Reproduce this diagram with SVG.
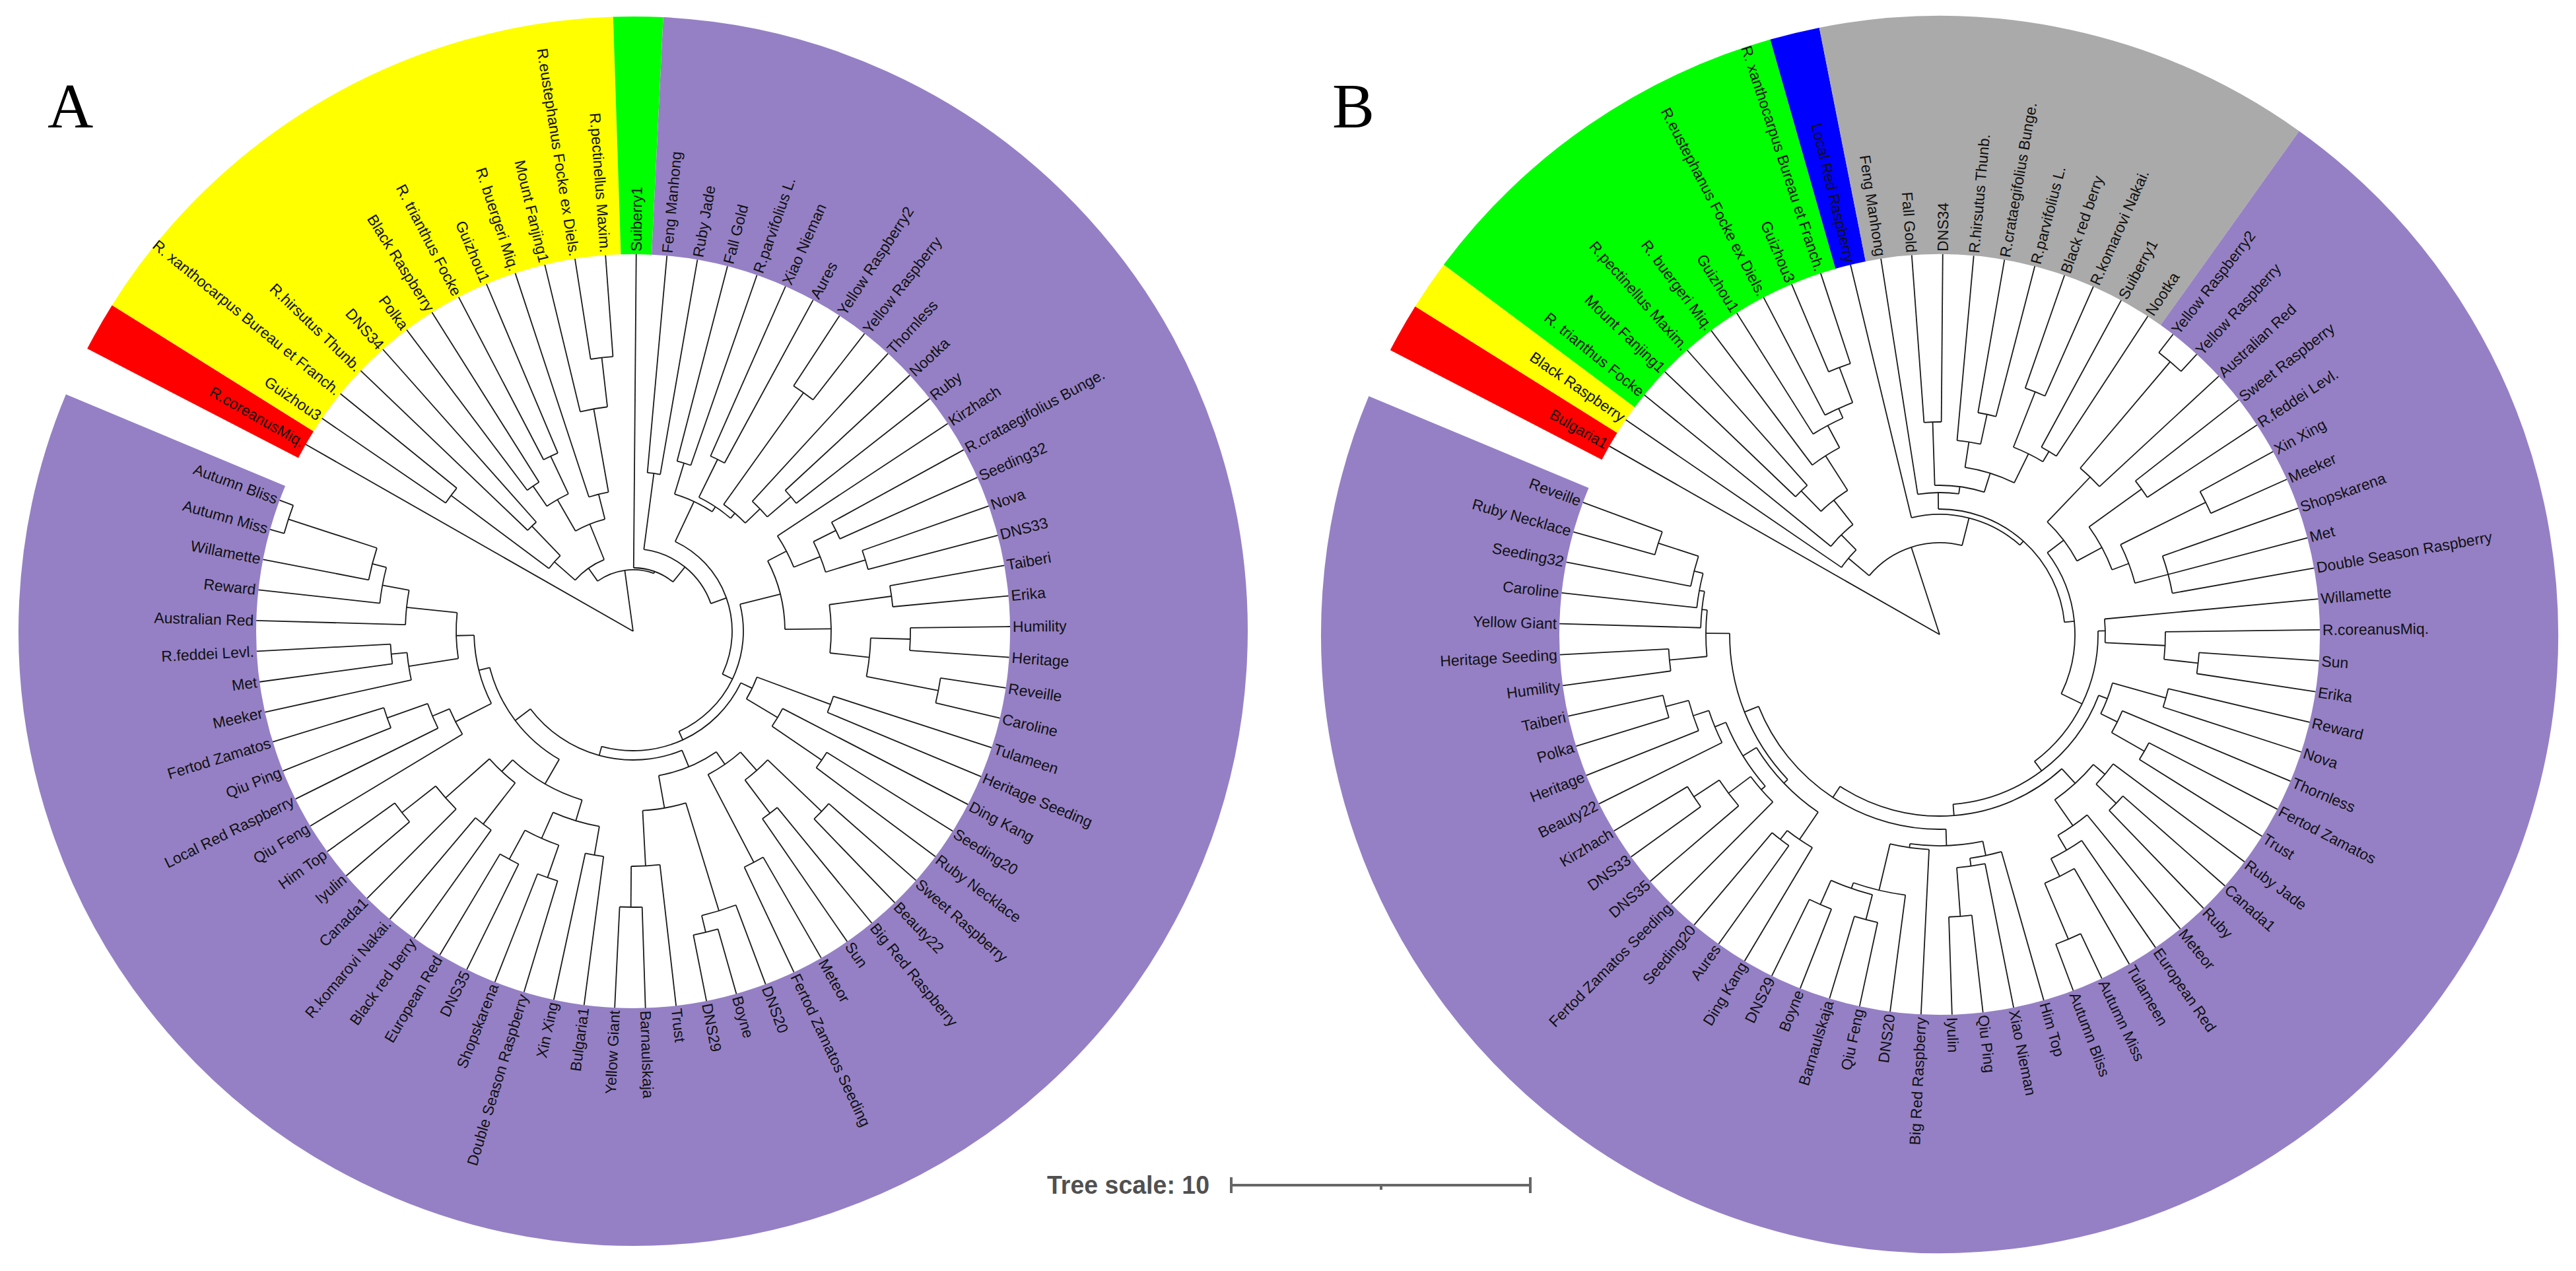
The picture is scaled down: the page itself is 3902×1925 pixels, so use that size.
<svg xmlns="http://www.w3.org/2000/svg" width="3902" height="1925" viewBox="0 0 3902 1925">
<style>
.br{fill:none;stroke:#1a1a1a;stroke-width:1.8}
.bd{fill:none;stroke-width:360}
.lb{font-family:"Liberation Sans",Arial,sans-serif;font-size:23px;fill:#111;dominant-baseline:central}
.f{text-anchor:end}
.pl{font-family:"Liberation Serif","Times New Roman",serif;font-size:96px;fill:#000}
.ts{font-family:"Liberation Sans",Arial,sans-serif;font-size:38px;font-weight:bold;fill:#505050}
.sb{stroke:#666;stroke-width:4;fill:none}
</style>
<rect width="3902" height="1925" fill="#fff"/>
<text id="panelA" class="pl" x="72" y="193">A</text>
<text id="panelB" class="pl" x="2018" y="193">B</text>

<g id="treeA" transform="translate(959 956)">
<g id="bandsA" class="bd">
<circle r="751" pathLength="360" stroke="#ff0000" stroke-dasharray="4.675 400" transform="rotate(207.3625)"/>
<circle r="751" pathLength="360" stroke="#ffff00" stroke-dasharray="56.1 400" transform="rotate(212.0375)"/>
<circle r="751" pathLength="360" stroke="#00ff00" stroke-dasharray="4.675 400" transform="rotate(268.1375)"/>
<circle r="751" pathLength="360" stroke="#9580c5" stroke-dasharray="289.85 400" transform="rotate(272.8125)"/>
</g>
<g id="connectorsA" class="br">
<line x2="571" transform="rotate(209.7)"/>
<line x2="93" transform="rotate(262.2)"/>
<circle r="93" pathLength="360" stroke-dasharray="55.03 400" transform="rotate(234.68)"/>
<line x1="93" x2="117" transform="rotate(234.68)"/>
<line x1="93" x2="96" transform="rotate(289.71)"/>
<circle r="96" pathLength="360" stroke-dasharray="38.475 400" transform="rotate(270.475)"/>
<line x1="96" x2="571" transform="rotate(270.475)"/>
<line x1="96" x2="125" transform="rotate(308.95)"/>
<circle r="117" pathLength="360" stroke-dasharray="26.59 400" transform="rotate(221.3875)"/>
<line x1="117" x2="159" transform="rotate(221.3875)"/>
<line x1="117" x2="175" transform="rotate(247.977)"/>
<circle r="159" pathLength="360" stroke-dasharray="9.35 400" transform="rotate(216.7125)"/>
<line x1="159" x2="344" transform="rotate(216.7125)"/>
<line x1="159" x2="221" transform="rotate(226.0625)"/>
<circle r="344" pathLength="360" stroke-dasharray="4.675 400" transform="rotate(214.375)"/>
<line x1="344" x2="571" transform="rotate(214.375)"/>
<line x1="344" x2="571" transform="rotate(219.05)"/>
<circle r="221" pathLength="360" stroke-dasharray="4.675 400" transform="rotate(223.725)"/>
<line x1="221" x2="571" transform="rotate(223.725)"/>
<line x1="221" x2="571" transform="rotate(228.4)"/>
<circle r="175" pathLength="360" stroke-dasharray="15.78 400" transform="rotate(240.0875)"/>
<line x1="175" x2="230" transform="rotate(240.0875)"/>
<line x1="175" x2="214" transform="rotate(255.866)"/>
<circle r="230" pathLength="360" stroke-dasharray="9.35 400" transform="rotate(235.4125)"/>
<line x1="230" x2="267" transform="rotate(235.4125)"/>
<line x1="230" x2="293" transform="rotate(244.7625)"/>
<circle r="267" pathLength="360" stroke-dasharray="4.675 400" transform="rotate(233.075)"/>
<line x1="267" x2="571" transform="rotate(233.075)"/>
<line x1="267" x2="571" transform="rotate(237.75)"/>
<circle r="293" pathLength="360" stroke-dasharray="4.675 400" transform="rotate(242.425)"/>
<line x1="293" x2="571" transform="rotate(242.425)"/>
<line x1="293" x2="571" transform="rotate(247.1)"/>
<circle r="214" pathLength="360" stroke-dasharray="8.181 400" transform="rotate(251.775)"/>
<line x1="214" x2="571" transform="rotate(251.775)"/>
<line x1="214" x2="342" transform="rotate(259.956)"/>
<circle r="342" pathLength="360" stroke-dasharray="7.0125 400" transform="rotate(256.45)"/>
<line x1="342" x2="571" transform="rotate(256.45)"/>
<line x1="342" x2="417" transform="rotate(263.4625)"/>
<circle r="417" pathLength="360" stroke-dasharray="4.675 400" transform="rotate(261.125)"/>
<line x1="417" x2="571" transform="rotate(261.125)"/>
<line x1="417" x2="571" transform="rotate(265.8)"/>
<circle r="125" pathLength="360" stroke-dasharray="62.9175 400" transform="rotate(277.4875)"/>
<line x1="125" x2="241" transform="rotate(277.4875)"/>
<line x1="125" x2="150" transform="rotate(340.405)"/>
<circle r="241" pathLength="360" stroke-dasharray="4.675 400" transform="rotate(275.15)"/>
<line x1="241" x2="571" transform="rotate(275.15)"/>
<line x1="241" x2="571" transform="rotate(279.825)"/>
<circle r="150" pathLength="360" stroke-dasharray="90.49 400" transform="rotate(295.16)"/>
<line x1="150" x2="217" transform="rotate(295.16)"/>
<line x1="150" x2="167" transform="rotate(385.65)"/>
<circle r="217" pathLength="360" stroke-dasharray="16.6525 400" transform="rotate(286.8375)"/>
<line x1="217" x2="266" transform="rotate(286.8375)"/>
<line x1="217" x2="226" transform="rotate(303.49)"/>
<circle r="266" pathLength="360" stroke-dasharray="4.675 400" transform="rotate(284.5)"/>
<line x1="266" x2="571" transform="rotate(284.5)"/>
<line x1="266" x2="571" transform="rotate(289.175)"/>
<circle r="226" pathLength="360" stroke-dasharray="14.61 400" transform="rotate(296.1875)"/>
<line x1="226" x2="290" transform="rotate(296.1875)"/>
<line x1="226" x2="236" transform="rotate(310.797)"/>
<circle r="290" pathLength="360" stroke-dasharray="4.675 400" transform="rotate(293.85)"/>
<line x1="290" x2="571" transform="rotate(293.85)"/>
<line x1="290" x2="571" transform="rotate(298.525)"/>
<circle r="236" pathLength="360" stroke-dasharray="10.519 400" transform="rotate(305.5375)"/>
<line x1="236" x2="444" transform="rotate(305.5375)"/>
<line x1="236" x2="267" transform="rotate(316.056)"/>
<circle r="444" pathLength="360" stroke-dasharray="4.675 400" transform="rotate(303.2)"/>
<line x1="444" x2="571" transform="rotate(303.2)"/>
<line x1="444" x2="571" transform="rotate(307.875)"/>
<circle r="267" pathLength="360" stroke-dasharray="7.0125 400" transform="rotate(312.55)"/>
<line x1="267" x2="571" transform="rotate(312.55)"/>
<line x1="267" x2="314" transform="rotate(319.5625)"/>
<circle r="314" pathLength="360" stroke-dasharray="4.675 400" transform="rotate(317.225)"/>
<line x1="314" x2="571" transform="rotate(317.225)"/>
<line x1="314" x2="571" transform="rotate(321.9)"/>
<circle r="167" pathLength="360" stroke-dasharray="79.575 400" transform="rotate(345.86)"/>
<line x1="167" x2="230" transform="rotate(345.86)"/>
<line x1="167" x2="181" transform="rotate(425.435)"/>
<circle r="230" pathLength="360" stroke-dasharray="26.88 400" transform="rotate(332.42)"/>
<line x1="230" x2="262" transform="rotate(332.42)"/>
<line x1="230" x2="300" transform="rotate(359.3)"/>
<circle r="262" pathLength="360" stroke-dasharray="11.6875 400" transform="rotate(326.575)"/>
<line x1="262" x2="571" transform="rotate(326.575)"/>
<line x1="262" x2="305" transform="rotate(338.2625)"/>
<circle r="305" pathLength="360" stroke-dasharray="9.35 400" transform="rotate(333.5875)"/>
<line x1="305" x2="343" transform="rotate(333.5875)"/>
<line x1="305" x2="368" transform="rotate(342.9375)"/>
<circle r="343" pathLength="360" stroke-dasharray="4.675 400" transform="rotate(331.25)"/>
<line x1="343" x2="571" transform="rotate(331.25)"/>
<line x1="343" x2="571" transform="rotate(335.925)"/>
<circle r="368" pathLength="360" stroke-dasharray="4.675 400" transform="rotate(340.6)"/>
<line x1="368" x2="571" transform="rotate(340.6)"/>
<line x1="368" x2="571" transform="rotate(345.275)"/>
<circle r="300" pathLength="360" stroke-dasharray="14.025 400" transform="rotate(352.2875)"/>
<line x1="300" x2="395" transform="rotate(352.2875)"/>
<line x1="300" x2="360" transform="rotate(366.3125)"/>
<circle r="395" pathLength="360" stroke-dasharray="4.675 400" transform="rotate(349.95)"/>
<line x1="395" x2="571" transform="rotate(349.95)"/>
<line x1="395" x2="571" transform="rotate(354.625)"/>
<circle r="360" pathLength="360" stroke-dasharray="9.35 400" transform="rotate(361.6375)"/>
<line x1="360" x2="420" transform="rotate(361.6375)"/>
<line x1="360" x2="471" transform="rotate(370.9875)"/>
<circle r="420" pathLength="360" stroke-dasharray="4.675 400" transform="rotate(359.3)"/>
<line x1="420" x2="571" transform="rotate(359.3)"/>
<line x1="420" x2="571" transform="rotate(363.975)"/>
<circle r="471" pathLength="360" stroke-dasharray="4.675 400" transform="rotate(368.65)"/>
<line x1="471" x2="571" transform="rotate(368.65)"/>
<line x1="471" x2="571" transform="rotate(373.325)"/>
<circle r="181" pathLength="360" stroke-dasharray="79.67 400" transform="rotate(385.6)"/>
<line x1="181" x2="200" transform="rotate(385.6)"/>
<line x1="181" x2="195" transform="rotate(465.27)"/>
<circle r="200" pathLength="360" stroke-dasharray="10.519 400" transform="rotate(380.3375)"/>
<line x1="200" x2="319" transform="rotate(380.3375)"/>
<line x1="200" x2="255" transform="rotate(390.856)"/>
<circle r="319" pathLength="360" stroke-dasharray="4.675 400" transform="rotate(378)"/>
<line x1="319" x2="571" transform="rotate(378)"/>
<line x1="319" x2="571" transform="rotate(382.675)"/>
<circle r="255" pathLength="360" stroke-dasharray="7.0125 400" transform="rotate(387.35)"/>
<line x1="255" x2="571" transform="rotate(387.35)"/>
<line x1="255" x2="346" transform="rotate(394.3625)"/>
<circle r="346" pathLength="360" stroke-dasharray="4.675 400" transform="rotate(392.025)"/>
<line x1="346" x2="571" transform="rotate(392.025)"/>
<line x1="346" x2="571" transform="rotate(396.7)"/>
<circle r="195" pathLength="360" stroke-dasharray="75.2 400" transform="rotate(427.67)"/>
<line x1="195" x2="222" transform="rotate(427.67)"/>
<line x1="195" x2="224" transform="rotate(502.87)"/>
<circle r="222" pathLength="360" stroke-dasharray="24.54 400" transform="rotate(415.4)"/>
<line x1="222" x2="245" transform="rotate(415.4)"/>
<line x1="222" x2="272" transform="rotate(439.94)"/>
<circle r="245" pathLength="360" stroke-dasharray="14.025 400" transform="rotate(408.3875)"/>
<line x1="245" x2="282" transform="rotate(408.3875)"/>
<line x1="245" x2="395" transform="rotate(422.4125)"/>
<circle r="282" pathLength="360" stroke-dasharray="9.35 400" transform="rotate(403.7125)"/>
<line x1="282" x2="395" transform="rotate(403.7125)"/>
<line x1="282" x2="345" transform="rotate(413.0625)"/>
<circle r="395" pathLength="360" stroke-dasharray="4.675 400" transform="rotate(401.375)"/>
<line x1="395" x2="571" transform="rotate(401.375)"/>
<line x1="395" x2="571" transform="rotate(406.05)"/>
<circle r="345" pathLength="360" stroke-dasharray="4.675 400" transform="rotate(410.725)"/>
<line x1="345" x2="571" transform="rotate(410.725)"/>
<line x1="345" x2="571" transform="rotate(415.4)"/>
<circle r="395" pathLength="360" stroke-dasharray="4.675 400" transform="rotate(420.075)"/>
<line x1="395" x2="571" transform="rotate(420.075)"/>
<line x1="395" x2="571" transform="rotate(424.75)"/>
<circle r="272" pathLength="360" stroke-dasharray="14.026 400" transform="rotate(432.93)"/>
<line x1="272" x2="443" transform="rotate(432.93)"/>
<line x1="272" x2="356" transform="rotate(446.956)"/>
<circle r="443" pathLength="360" stroke-dasharray="7.0125 400" transform="rotate(429.425)"/>
<line x1="443" x2="571" transform="rotate(429.425)"/>
<line x1="443" x2="469" transform="rotate(436.4375)"/>
<circle r="469" pathLength="360" stroke-dasharray="4.675 400" transform="rotate(434.1)"/>
<line x1="469" x2="571" transform="rotate(434.1)"/>
<line x1="469" x2="571" transform="rotate(438.775)"/>
<circle r="356" pathLength="360" stroke-dasharray="7.0125 400" transform="rotate(443.45)"/>
<line x1="356" x2="571" transform="rotate(443.45)"/>
<line x1="356" x2="418" transform="rotate(450.4625)"/>
<circle r="418" pathLength="360" stroke-dasharray="4.675 400" transform="rotate(448.125)"/>
<line x1="418" x2="571" transform="rotate(448.125)"/>
<line x1="418" x2="571" transform="rotate(452.8)"/>
<circle r="224" pathLength="360" stroke-dasharray="45.805 400" transform="rotate(479.97)"/>
<line x1="224" x2="267" transform="rotate(479.97)"/>
<line x1="224" x2="241" transform="rotate(525.775)"/>
<circle r="267" pathLength="360" stroke-dasharray="26.295 400" transform="rotate(466.825)"/>
<line x1="267" x2="300" transform="rotate(466.825)"/>
<line x1="267" x2="291" transform="rotate(493.12)"/>
<circle r="300" pathLength="360" stroke-dasharray="14.025 400" transform="rotate(459.8125)"/>
<line x1="300" x2="344" transform="rotate(459.8125)"/>
<line x1="300" x2="343" transform="rotate(473.8375)"/>
<circle r="344" pathLength="360" stroke-dasharray="4.675 400" transform="rotate(457.475)"/>
<line x1="344" x2="571" transform="rotate(457.475)"/>
<line x1="344" x2="571" transform="rotate(462.15)"/>
<circle r="343" pathLength="360" stroke-dasharray="9.35 400" transform="rotate(469.1625)"/>
<line x1="343" x2="395" transform="rotate(469.1625)"/>
<line x1="343" x2="393" transform="rotate(478.5125)"/>
<circle r="395" pathLength="360" stroke-dasharray="4.675 400" transform="rotate(466.825)"/>
<line x1="395" x2="571" transform="rotate(466.825)"/>
<line x1="395" x2="571" transform="rotate(471.5)"/>
<circle r="393" pathLength="360" stroke-dasharray="4.675 400" transform="rotate(476.175)"/>
<line x1="393" x2="571" transform="rotate(476.175)"/>
<line x1="393" x2="571" transform="rotate(480.85)"/>
<circle r="291" pathLength="360" stroke-dasharray="10.5175 400" transform="rotate(487.8625)"/>
<line x1="291" x2="370" transform="rotate(487.8625)"/>
<line x1="291" x2="380" transform="rotate(498.38)"/>
<circle r="370" pathLength="360" stroke-dasharray="4.675 400" transform="rotate(485.525)"/>
<line x1="370" x2="571" transform="rotate(485.525)"/>
<line x1="370" x2="571" transform="rotate(490.2)"/>
<circle r="380" pathLength="360" stroke-dasharray="7.0125 400" transform="rotate(494.875)"/>
<line x1="380" x2="571" transform="rotate(494.875)"/>
<line x1="380" x2="445" transform="rotate(501.8875)"/>
<circle r="445" pathLength="360" stroke-dasharray="4.675 400" transform="rotate(499.55)"/>
<line x1="445" x2="571" transform="rotate(499.55)"/>
<line x1="445" x2="571" transform="rotate(504.225)"/>
<circle r="241" pathLength="360" stroke-dasharray="25.57 400" transform="rotate(512.99)"/>
<line x1="241" x2="302" transform="rotate(512.99)"/>
<line x1="241" x2="268" transform="rotate(538.56)"/>
<circle r="302" pathLength="360" stroke-dasharray="8.18 400" transform="rotate(508.9)"/>
<line x1="302" x2="571" transform="rotate(508.9)"/>
<line x1="302" x2="330" transform="rotate(517.08)"/>
<circle r="330" pathLength="360" stroke-dasharray="7.0125 400" transform="rotate(513.575)"/>
<line x1="330" x2="571" transform="rotate(513.575)"/>
<line x1="330" x2="395" transform="rotate(520.5875)"/>
<circle r="395" pathLength="360" stroke-dasharray="4.675 400" transform="rotate(518.25)"/>
<line x1="395" x2="571" transform="rotate(518.25)"/>
<line x1="395" x2="571" transform="rotate(522.925)"/>
<circle r="268" pathLength="360" stroke-dasharray="14.9 400" transform="rotate(531.11)"/>
<line x1="268" x2="344" transform="rotate(531.11)"/>
<line x1="268" x2="345" transform="rotate(546.01)"/>
<circle r="344" pathLength="360" stroke-dasharray="7.0125 400" transform="rotate(527.6)"/>
<line x1="344" x2="571" transform="rotate(527.6)"/>
<line x1="344" x2="368" transform="rotate(534.6125)"/>
<circle r="368" pathLength="360" stroke-dasharray="4.675 400" transform="rotate(532.275)"/>
<line x1="368" x2="571" transform="rotate(532.275)"/>
<line x1="368" x2="571" transform="rotate(536.95)"/>
<circle r="345" pathLength="360" stroke-dasharray="8.765 400" transform="rotate(541.625)"/>
<line x1="345" x2="571" transform="rotate(541.625)"/>
<line x1="345" x2="386" transform="rotate(550.39)"/>
<circle r="386" pathLength="360" stroke-dasharray="8.18 400" transform="rotate(546.3)"/>
<line x1="386" x2="571" transform="rotate(546.3)"/>
<line x1="386" x2="408" transform="rotate(554.48)"/>
<circle r="408" pathLength="360" stroke-dasharray="7.0125 400" transform="rotate(550.975)"/>
<line x1="408" x2="571" transform="rotate(550.975)"/>
<line x1="408" x2="549" transform="rotate(557.9875)"/>
<circle r="549" pathLength="360" stroke-dasharray="4.675 400" transform="rotate(555.65)"/>
<line x1="549" x2="571" transform="rotate(555.65)"/>
<line x1="549" x2="571" transform="rotate(560.325)"/>
</g>
<g id="labelsA" class="lb">
<g id="A01"><text class="f" x="-575" transform="rotate(29.7)">R.coreanusMiq.</text></g>
<g id="A02"><text class="f" x="-575" transform="rotate(34.375)">Guizhou3</text></g>
<g id="A03"><text class="f" x="-575" transform="rotate(39.05)">R. xanthocarpus Bureau et Franch.</text></g>
<g id="A04"><text class="f" x="-575" transform="rotate(43.725)">R.hirsutus Thunb.</text></g>
<g id="A05"><text class="f" x="-575" transform="rotate(48.4)">DNS34</text></g>
<g id="A06"><text class="f" x="-575" transform="rotate(53.075)">Polka</text></g>
<g id="A07"><text class="f" x="-575" transform="rotate(57.75)">Black Raspberry</text></g>
<g id="A08"><text class="f" x="-575" transform="rotate(62.425)">R. trianthus Focke</text></g>
<g id="A09"><text class="f" x="-575" transform="rotate(67.1)">Guizhou1</text></g>
<g id="A10"><text class="f" x="-575" transform="rotate(71.775)">R. buergeri Miq.</text></g>
<g id="A11"><text class="f" x="-575" transform="rotate(76.45)">Mount Fanjing1</text></g>
<g id="A12"><text class="f" x="-575" transform="rotate(81.125)">R.eustephanus Focke ex Diels.</text></g>
<g id="A13"><text class="f" x="-575" transform="rotate(85.8)">R.pectinellus Maxim.</text></g>
<g id="A14"><text x="575" transform="rotate(270.475)">Suiberry1</text></g>
<g id="A15"><text x="575" transform="rotate(275.15)">Feng Manhong</text></g>
<g id="A16"><text x="575" transform="rotate(279.825)">Ruby Jade</text></g>
<g id="A17"><text x="575" transform="rotate(284.5)">Fall Gold</text></g>
<g id="A18"><text x="575" transform="rotate(289.175)">R.parvifolius L.</text></g>
<g id="A19"><text x="575" transform="rotate(293.85)">Xiao Nieman</text></g>
<g id="A20"><text x="575" transform="rotate(298.525)">Aures</text></g>
<g id="A21"><text x="575" transform="rotate(303.2)">Yellow Raspberry2</text></g>
<g id="A22"><text x="575" transform="rotate(307.875)">Yellow Raspberry</text></g>
<g id="A23"><text x="575" transform="rotate(312.55)">Thornless</text></g>
<g id="A24"><text x="575" transform="rotate(317.225)">Nootka</text></g>
<g id="A25"><text x="575" transform="rotate(321.9)">Ruby</text></g>
<g id="A26"><text x="575" transform="rotate(326.575)">Kirzhach</text></g>
<g id="A27"><text x="575" transform="rotate(331.25)">R.crataegifolius Bunge.</text></g>
<g id="A28"><text x="575" transform="rotate(335.925)">Seeding32</text></g>
<g id="A29"><text x="575" transform="rotate(340.6)">Nova</text></g>
<g id="A30"><text x="575" transform="rotate(345.275)">DNS33</text></g>
<g id="A31"><text x="575" transform="rotate(349.95)">Taiberi</text></g>
<g id="A32"><text x="575" transform="rotate(354.625)">Erika</text></g>
<g id="A33"><text x="575" transform="rotate(359.3)">Humility</text></g>
<g id="A34"><text x="575" transform="rotate(3.975)">Heritage</text></g>
<g id="A35"><text x="575" transform="rotate(8.65)">Reveille</text></g>
<g id="A36"><text x="575" transform="rotate(13.325)">Caroline</text></g>
<g id="A37"><text x="575" transform="rotate(18)">Tulameen</text></g>
<g id="A38"><text x="575" transform="rotate(22.675)">Heritage Seeding</text></g>
<g id="A39"><text x="575" transform="rotate(27.35)">Ding Kang</text></g>
<g id="A40"><text x="575" transform="rotate(32.025)">Seeding20</text></g>
<g id="A41"><text x="575" transform="rotate(36.7)">Ruby Necklace</text></g>
<g id="A42"><text x="575" transform="rotate(41.375)">Sweet Raspberry</text></g>
<g id="A43"><text x="575" transform="rotate(46.05)">Beauty22</text></g>
<g id="A44"><text x="575" transform="rotate(50.725)">Big Red Raspberry</text></g>
<g id="A45"><text x="575" transform="rotate(55.4)">Sun</text></g>
<g id="A46"><text x="575" transform="rotate(60.075)">Meteor</text></g>
<g id="A47"><text x="575" transform="rotate(64.75)">Fertod Zamatos Seeding</text></g>
<g id="A48"><text x="575" transform="rotate(69.425)">DNS20</text></g>
<g id="A49"><text x="575" transform="rotate(74.1)">Boyne</text></g>
<g id="A50"><text x="575" transform="rotate(78.775)">DNS29</text></g>
<g id="A51"><text x="575" transform="rotate(83.45)">Trust</text></g>
<g id="A52"><text x="575" transform="rotate(88.125)">Barnaulskaja</text></g>
<g id="A53"><text class="f" x="-575" transform="rotate(-87.2)">Yellow Giant</text></g>
<g id="A54"><text class="f" x="-575" transform="rotate(-82.525)">Bulgaria1</text></g>
<g id="A55"><text class="f" x="-575" transform="rotate(-77.85)">Xin Xing</text></g>
<g id="A56"><text class="f" x="-575" transform="rotate(-73.175)">Double Season Raspberry</text></g>
<g id="A57"><text class="f" x="-575" transform="rotate(-68.5)">Shopskarena</text></g>
<g id="A58"><text class="f" x="-575" transform="rotate(-63.825)">DNS35</text></g>
<g id="A59"><text class="f" x="-575" transform="rotate(-59.15)">European Red</text></g>
<g id="A60"><text class="f" x="-575" transform="rotate(-54.475)">Black red berry</text></g>
<g id="A61"><text class="f" x="-575" transform="rotate(-49.8)">R.komarovi Nakai.</text></g>
<g id="A62"><text class="f" x="-575" transform="rotate(-45.125)">Canada1</text></g>
<g id="A63"><text class="f" x="-575" transform="rotate(-40.45)">Iyulin</text></g>
<g id="A64"><text class="f" x="-575" transform="rotate(-35.775)">Him Top</text></g>
<g id="A65"><text class="f" x="-575" transform="rotate(-31.1)">Qiu Feng</text></g>
<g id="A66"><text class="f" x="-575" transform="rotate(-26.425)">Local Red Raspberry</text></g>
<g id="A67"><text class="f" x="-575" transform="rotate(-21.75)">Qiu Ping</text></g>
<g id="A68"><text class="f" x="-575" transform="rotate(-17.075)">Fertod Zamatos</text></g>
<g id="A69"><text class="f" x="-575" transform="rotate(-12.4)">Meeker</text></g>
<g id="A70"><text class="f" x="-575" transform="rotate(-7.725)">Met</text></g>
<g id="A71"><text class="f" x="-575" transform="rotate(-3.05)">R.feddei Levl.</text></g>
<g id="A72"><text class="f" x="-575" transform="rotate(1.625)">Australian Red</text></g>
<g id="A73"><text class="f" x="-575" transform="rotate(6.3)">Reward</text></g>
<g id="A74"><text class="f" x="-575" transform="rotate(10.975)">Willamette</text></g>
<g id="A75"><text class="f" x="-575" transform="rotate(15.65)">Autumn Miss</text></g>
<g id="A76"><text class="f" x="-575" transform="rotate(20.325)">Autumn Bliss</text></g>
</g>
</g>

<g id="treeB" transform="translate(2938 961)">
<g id="bandsB" class="bd" style="stroke-width:361px">
<circle r="756.5" pathLength="360" stroke="#ff0000" stroke-dasharray="4.675 400" transform="rotate(207.3625)"/>
<circle r="756.5" pathLength="360" stroke="#ffff00" stroke-dasharray="4.675 400" transform="rotate(212.0375)"/>
<circle r="756.5" pathLength="360" stroke="#00ff00" stroke-dasharray="37.4 400" transform="rotate(216.7125)"/>
<circle r="756.5" pathLength="360" stroke="#0000ff" stroke-dasharray="4.675 400" transform="rotate(254.1125)"/>
<circle r="756.5" pathLength="360" stroke="#aaaaaa" stroke-dasharray="46.75 400" transform="rotate(258.7875)"/>
<circle r="756.5" pathLength="360" stroke="#9580c5" stroke-dasharray="257.125 400" transform="rotate(305.5375)"/>
</g>
<g id="connectorsB" class="br">
<line x2="576" transform="rotate(209.7)"/>
<line x2="139" transform="rotate(252.04)"/>
<circle r="139" pathLength="360" stroke-dasharray="64.29 400" transform="rotate(219.89)"/>
<line x1="139" x2="180" transform="rotate(219.89)"/>
<line x1="139" x2="182" transform="rotate(284.18)"/>
<circle r="180" pathLength="360" stroke-dasharray="11.035 400" transform="rotate(214.375)"/>
<line x1="180" x2="576" transform="rotate(214.375)"/>
<line x1="180" x2="212" transform="rotate(225.41)"/>
<circle r="212" pathLength="360" stroke-dasharray="12.71 400" transform="rotate(219.05)"/>
<line x1="212" x2="576" transform="rotate(219.05)"/>
<line x1="212" x2="259" transform="rotate(231.76)"/>
<circle r="259" pathLength="360" stroke-dasharray="11.3975 400" transform="rotate(226.0625)"/>
<line x1="259" x2="302" transform="rotate(226.0625)"/>
<line x1="259" x2="321" transform="rotate(237.46)"/>
<circle r="302" pathLength="360" stroke-dasharray="4.675 400" transform="rotate(223.725)"/>
<line x1="302" x2="576" transform="rotate(223.725)"/>
<line x1="302" x2="576" transform="rotate(228.4)"/>
<circle r="321" pathLength="360" stroke-dasharray="8.765 400" transform="rotate(233.075)"/>
<line x1="321" x2="576" transform="rotate(233.075)"/>
<line x1="321" x2="359" transform="rotate(241.84)"/>
<circle r="359" pathLength="360" stroke-dasharray="8.18 400" transform="rotate(237.75)"/>
<line x1="359" x2="576" transform="rotate(237.75)"/>
<line x1="359" x2="375" transform="rotate(245.93)"/>
<circle r="375" pathLength="360" stroke-dasharray="7.0125 400" transform="rotate(242.425)"/>
<line x1="375" x2="576" transform="rotate(242.425)"/>
<line x1="375" x2="432" transform="rotate(249.4375)"/>
<circle r="432" pathLength="360" stroke-dasharray="4.675 400" transform="rotate(247.1)"/>
<line x1="432" x2="576" transform="rotate(247.1)"/>
<line x1="432" x2="576" transform="rotate(251.775)"/>
<circle r="182" pathLength="360" stroke-dasharray="55.46 400" transform="rotate(256.45)"/>
<line x1="182" x2="576" transform="rotate(256.45)"/>
<line x1="182" x2="190" transform="rotate(311.91)"/>
<circle r="190" pathLength="360" stroke-dasharray="84.92 400" transform="rotate(269.45)"/>
<line x1="190" x2="215" transform="rotate(269.45)"/>
<line x1="190" x2="205" transform="rotate(354.37)"/>
<circle r="215" pathLength="360" stroke-dasharray="16.655 400" transform="rotate(261.125)"/>
<line x1="215" x2="576" transform="rotate(261.125)"/>
<line x1="215" x2="226" transform="rotate(277.78)"/>
<circle r="226" pathLength="360" stroke-dasharray="19.2825 400" transform="rotate(268.1375)"/>
<line x1="226" x2="322" transform="rotate(268.1375)"/>
<line x1="226" x2="256" transform="rotate(287.42)"/>
<circle r="322" pathLength="360" stroke-dasharray="4.675 400" transform="rotate(265.8)"/>
<line x1="322" x2="576" transform="rotate(265.8)"/>
<line x1="322" x2="576" transform="rotate(270.475)"/>
<circle r="256" pathLength="360" stroke-dasharray="17.53 400" transform="rotate(278.66)"/>
<line x1="256" x2="295" transform="rotate(278.66)"/>
<line x1="256" x2="305" transform="rotate(296.19)"/>
<circle r="295" pathLength="360" stroke-dasharray="7.0125 400" transform="rotate(275.15)"/>
<line x1="295" x2="576" transform="rotate(275.15)"/>
<line x1="295" x2="341" transform="rotate(282.1625)"/>
<circle r="341" pathLength="360" stroke-dasharray="4.675 400" transform="rotate(279.825)"/>
<line x1="341" x2="576" transform="rotate(279.825)"/>
<line x1="341" x2="576" transform="rotate(284.5)"/>
<circle r="305" pathLength="360" stroke-dasharray="9.35 400" transform="rotate(291.5125)"/>
<line x1="305" x2="395" transform="rotate(291.5125)"/>
<line x1="305" x2="323" transform="rotate(300.8625)"/>
<circle r="395" pathLength="360" stroke-dasharray="4.675 400" transform="rotate(289.175)"/>
<line x1="395" x2="576" transform="rotate(289.175)"/>
<line x1="395" x2="576" transform="rotate(293.85)"/>
<circle r="323" pathLength="360" stroke-dasharray="4.675 400" transform="rotate(298.525)"/>
<line x1="323" x2="576" transform="rotate(298.525)"/>
<line x1="323" x2="576" transform="rotate(303.2)"/>
<circle r="205" pathLength="360" stroke-dasharray="63.18 400" transform="rotate(322.78)"/>
<line x1="205" x2="236" transform="rotate(322.78)"/>
<line x1="205" x2="240" transform="rotate(385.96)"/>
<circle r="236" pathLength="360" stroke-dasharray="18.11 400" transform="rotate(313.72)"/>
<line x1="236" x2="330" transform="rotate(313.72)"/>
<line x1="236" x2="279" transform="rotate(331.83)"/>
<circle r="330" pathLength="360" stroke-dasharray="7.0125 400" transform="rotate(310.2125)"/>
<line x1="330" x2="541" transform="rotate(310.2125)"/>
<line x1="330" x2="576" transform="rotate(317.225)"/>
<circle r="541" pathLength="360" stroke-dasharray="4.675 400" transform="rotate(307.875)"/>
<line x1="541" x2="576" transform="rotate(307.875)"/>
<line x1="541" x2="576" transform="rotate(312.55)"/>
<circle r="279" pathLength="360" stroke-dasharray="15.1925 400" transform="rotate(324.2375)"/>
<line x1="279" x2="377" transform="rotate(324.2375)"/>
<line x1="279" x2="306" transform="rotate(339.43)"/>
<circle r="377" pathLength="360" stroke-dasharray="4.675 400" transform="rotate(321.9)"/>
<line x1="377" x2="576" transform="rotate(321.9)"/>
<line x1="377" x2="576" transform="rotate(326.575)"/>
<circle r="306" pathLength="360" stroke-dasharray="11.6875 400" transform="rotate(333.5875)"/>
<line x1="306" x2="450" transform="rotate(333.5875)"/>
<line x1="306" x2="358" transform="rotate(345.275)"/>
<circle r="450" pathLength="360" stroke-dasharray="4.675 400" transform="rotate(331.25)"/>
<line x1="450" x2="576" transform="rotate(331.25)"/>
<line x1="450" x2="576" transform="rotate(335.925)"/>
<circle r="358" pathLength="360" stroke-dasharray="9.35 400" transform="rotate(340.6)"/>
<line x1="358" x2="576" transform="rotate(340.6)"/>
<line x1="358" x2="576" transform="rotate(345.275)"/>
<line x1="358" x2="576" transform="rotate(349.95)"/>
<circle r="240" pathLength="360" stroke-dasharray="54.47 400" transform="rotate(358.72)"/>
<line x1="240" x2="251" transform="rotate(358.72)"/>
<line x1="240" x2="258" transform="rotate(413.19)"/>
<circle r="251" pathLength="360" stroke-dasharray="8.185 400" transform="rotate(354.625)"/>
<line x1="251" x2="576" transform="rotate(354.625)"/>
<line x1="251" x2="342" transform="rotate(362.81)"/>
<circle r="342" pathLength="360" stroke-dasharray="7.0125 400" transform="rotate(359.3)"/>
<line x1="342" x2="576" transform="rotate(359.3)"/>
<line x1="342" x2="394" transform="rotate(366.3125)"/>
<circle r="394" pathLength="360" stroke-dasharray="4.675 400" transform="rotate(363.975)"/>
<line x1="394" x2="576" transform="rotate(363.975)"/>
<line x1="394" x2="576" transform="rotate(368.65)"/>
<circle r="258" pathLength="360" stroke-dasharray="64.53 400" transform="rotate(380.92)"/>
<line x1="258" x2="272" transform="rotate(380.92)"/>
<line x1="258" x2="275" transform="rotate(445.45)"/>
<circle r="272" pathLength="360" stroke-dasharray="10.5175 400" transform="rotate(375.6625)"/>
<line x1="272" x2="356" transform="rotate(375.6625)"/>
<line x1="272" x2="300" transform="rotate(386.18)"/>
<circle r="356" pathLength="360" stroke-dasharray="4.675 400" transform="rotate(373.325)"/>
<line x1="356" x2="576" transform="rotate(373.325)"/>
<line x1="356" x2="576" transform="rotate(378)"/>
<circle r="300" pathLength="360" stroke-dasharray="7.0125 400" transform="rotate(382.675)"/>
<line x1="300" x2="576" transform="rotate(382.675)"/>
<line x1="300" x2="357" transform="rotate(389.6875)"/>
<circle r="357" pathLength="360" stroke-dasharray="4.675 400" transform="rotate(387.35)"/>
<line x1="357" x2="576" transform="rotate(387.35)"/>
<line x1="357" x2="576" transform="rotate(392.025)"/>
<circle r="275" pathLength="360" stroke-dasharray="75.57 400" transform="rotate(407.66)"/>
<line x1="275" x2="305" transform="rotate(407.66)"/>
<line x1="275" x2="295" transform="rotate(483.23)"/>
<circle r="305" pathLength="360" stroke-dasharray="14.9 400" transform="rotate(400.21)"/>
<line x1="305" x2="328" transform="rotate(400.21)"/>
<line x1="305" x2="353" transform="rotate(415.11)"/>
<circle r="328" pathLength="360" stroke-dasharray="7.0125 400" transform="rotate(396.7)"/>
<line x1="328" x2="576" transform="rotate(396.7)"/>
<line x1="328" x2="370" transform="rotate(403.7125)"/>
<circle r="370" pathLength="360" stroke-dasharray="4.675 400" transform="rotate(401.375)"/>
<line x1="370" x2="576" transform="rotate(401.375)"/>
<line x1="370" x2="576" transform="rotate(406.05)"/>
<circle r="353" pathLength="360" stroke-dasharray="8.765 400" transform="rotate(410.725)"/>
<line x1="353" x2="576" transform="rotate(410.725)"/>
<line x1="353" x2="379" transform="rotate(419.49)"/>
<circle r="379" pathLength="360" stroke-dasharray="8.18 400" transform="rotate(415.4)"/>
<line x1="379" x2="576" transform="rotate(415.4)"/>
<line x1="379" x2="409" transform="rotate(423.58)"/>
<circle r="409" pathLength="360" stroke-dasharray="7.0125 400" transform="rotate(420.075)"/>
<line x1="409" x2="576" transform="rotate(420.075)"/>
<line x1="409" x2="501" transform="rotate(427.0875)"/>
<circle r="501" pathLength="360" stroke-dasharray="4.675 400" transform="rotate(424.75)"/>
<line x1="501" x2="576" transform="rotate(424.75)"/>
<line x1="501" x2="576" transform="rotate(429.425)"/>
<circle r="295" pathLength="360" stroke-dasharray="70.2 400" transform="rotate(448.13)"/>
<line x1="295" x2="320" transform="rotate(448.13)"/>
<line x1="295" x2="318" transform="rotate(518.33)"/>
<circle r="320" pathLength="360" stroke-dasharray="19.87 400" transform="rotate(438.19)"/>
<line x1="320" x2="342" transform="rotate(438.19)"/>
<line x1="320" x2="326" transform="rotate(458.06)"/>
<circle r="342" pathLength="360" stroke-dasharray="8.18 400" transform="rotate(434.1)"/>
<line x1="342" x2="576" transform="rotate(434.1)"/>
<line x1="342" x2="354" transform="rotate(442.28)"/>
<circle r="354" pathLength="360" stroke-dasharray="7.0125 400" transform="rotate(438.775)"/>
<line x1="354" x2="576" transform="rotate(438.775)"/>
<line x1="354" x2="428" transform="rotate(445.7875)"/>
<circle r="428" pathLength="360" stroke-dasharray="4.675 400" transform="rotate(443.45)"/>
<line x1="428" x2="576" transform="rotate(443.45)"/>
<line x1="428" x2="576" transform="rotate(448.125)"/>
<circle r="326" pathLength="360" stroke-dasharray="10.52 400" transform="rotate(452.8)"/>
<line x1="326" x2="576" transform="rotate(452.8)"/>
<line x1="326" x2="398" transform="rotate(463.32)"/>
<circle r="398" pathLength="360" stroke-dasharray="11.685 400" transform="rotate(457.475)"/>
<line x1="398" x2="576" transform="rotate(457.475)"/>
<line x1="398" x2="407" transform="rotate(469.16)"/>
<circle r="407" pathLength="360" stroke-dasharray="9.35 400" transform="rotate(464.4875)"/>
<line x1="407" x2="446" transform="rotate(464.4875)"/>
<line x1="407" x2="447" transform="rotate(473.8375)"/>
<circle r="446" pathLength="360" stroke-dasharray="4.675 400" transform="rotate(462.15)"/>
<line x1="446" x2="576" transform="rotate(462.15)"/>
<line x1="446" x2="576" transform="rotate(466.825)"/>
<circle r="447" pathLength="360" stroke-dasharray="4.675 400" transform="rotate(471.5)"/>
<line x1="447" x2="576" transform="rotate(471.5)"/>
<line x1="447" x2="576" transform="rotate(476.175)"/>
<circle r="318" pathLength="360" stroke-dasharray="43.97 400" transform="rotate(496.34)"/>
<line x1="318" x2="326" transform="rotate(496.34)"/>
<line x1="318" x2="354" transform="rotate(540.31)"/>
<circle r="326" pathLength="360" stroke-dasharray="23.96 400" transform="rotate(484.36)"/>
<line x1="326" x2="376" transform="rotate(484.36)"/>
<line x1="326" x2="350" transform="rotate(508.32)"/>
<circle r="376" pathLength="360" stroke-dasharray="7.0125 400" transform="rotate(480.85)"/>
<line x1="376" x2="576" transform="rotate(480.85)"/>
<line x1="376" x2="393" transform="rotate(487.8625)"/>
<circle r="393" pathLength="360" stroke-dasharray="4.675 400" transform="rotate(485.525)"/>
<line x1="393" x2="576" transform="rotate(485.525)"/>
<line x1="393" x2="576" transform="rotate(490.2)"/>
<circle r="350" pathLength="360" stroke-dasharray="18.7 400" transform="rotate(498.97)"/>
<line x1="350" x2="358" transform="rotate(498.97)"/>
<line x1="350" x2="368" transform="rotate(517.67)"/>
<circle r="358" pathLength="360" stroke-dasharray="8.185 400" transform="rotate(494.875)"/>
<line x1="358" x2="576" transform="rotate(494.875)"/>
<line x1="358" x2="400" transform="rotate(503.06)"/>
<circle r="400" pathLength="360" stroke-dasharray="7.0125 400" transform="rotate(499.55)"/>
<line x1="400" x2="576" transform="rotate(499.55)"/>
<line x1="400" x2="446" transform="rotate(506.5625)"/>
<circle r="446" pathLength="360" stroke-dasharray="4.675 400" transform="rotate(504.225)"/>
<line x1="446" x2="576" transform="rotate(504.225)"/>
<line x1="446" x2="576" transform="rotate(508.9)"/>
<circle r="368" pathLength="360" stroke-dasharray="8.185 400" transform="rotate(513.575)"/>
<line x1="368" x2="576" transform="rotate(513.575)"/>
<line x1="368" x2="393" transform="rotate(521.76)"/>
<circle r="393" pathLength="360" stroke-dasharray="7.0125 400" transform="rotate(518.25)"/>
<line x1="393" x2="576" transform="rotate(518.25)"/>
<line x1="393" x2="429" transform="rotate(525.2625)"/>
<circle r="429" pathLength="360" stroke-dasharray="4.675 400" transform="rotate(522.925)"/>
<line x1="429" x2="576" transform="rotate(522.925)"/>
<line x1="429" x2="576" transform="rotate(527.6)"/>
<circle r="354" pathLength="360" stroke-dasharray="11.3975 400" transform="rotate(534.6125)"/>
<line x1="354" x2="411" transform="rotate(534.6125)"/>
<line x1="354" x2="362" transform="rotate(546.01)"/>
<circle r="411" pathLength="360" stroke-dasharray="4.675 400" transform="rotate(532.275)"/>
<line x1="411" x2="576" transform="rotate(532.275)"/>
<line x1="411" x2="576" transform="rotate(536.95)"/>
<circle r="362" pathLength="360" stroke-dasharray="8.765 400" transform="rotate(541.625)"/>
<line x1="362" x2="576" transform="rotate(541.625)"/>
<line x1="362" x2="370" transform="rotate(550.39)"/>
<circle r="370" pathLength="360" stroke-dasharray="8.18 400" transform="rotate(546.3)"/>
<line x1="370" x2="576" transform="rotate(546.3)"/>
<line x1="370" x2="384" transform="rotate(554.48)"/>
<circle r="384" pathLength="360" stroke-dasharray="7.0125 400" transform="rotate(550.975)"/>
<line x1="384" x2="576" transform="rotate(550.975)"/>
<line x1="384" x2="448" transform="rotate(557.9875)"/>
<circle r="448" pathLength="360" stroke-dasharray="4.675 400" transform="rotate(555.65)"/>
<line x1="448" x2="576" transform="rotate(555.65)"/>
<line x1="448" x2="576" transform="rotate(560.325)"/>
</g>
<g id="labelsB" class="lb">
<g id="B01"><text class="f" x="-580" transform="rotate(29.7)">Bulgaria1</text></g>
<g id="B02"><text class="f" x="-580" transform="rotate(34.375)">Black Raspberry</text></g>
<g id="B03"><text class="f" x="-580" transform="rotate(39.05)">R. trianthus Focke</text></g>
<g id="B04"><text class="f" x="-580" transform="rotate(43.725)">Mount Fanjing1</text></g>
<g id="B05"><text class="f" x="-580" transform="rotate(48.4)">R.pectinellus Maxim.</text></g>
<g id="B06"><text class="f" x="-580" transform="rotate(53.075)">R. buergeri Miq.</text></g>
<g id="B07"><text class="f" x="-580" transform="rotate(57.75)">Guizhou1</text></g>
<g id="B08"><text class="f" x="-580" transform="rotate(62.425)">R.eustephanus Focke ex Diels.</text></g>
<g id="B09"><text class="f" x="-580" transform="rotate(67.1)">Guizhou3</text></g>
<g id="B10"><text class="f" x="-580" transform="rotate(71.775)">R. xanthocarpus Bureau et Franch.</text></g>
<g id="B11"><text class="f" x="-580" transform="rotate(76.45)">Local Red Raspberry</text></g>
<g id="B12"><text class="f" x="-580" transform="rotate(81.125)">Feng Manhong</text></g>
<g id="B13"><text class="f" x="-580" transform="rotate(85.8)">Fall Gold</text></g>
<g id="B14"><text x="580" transform="rotate(270.475)">DNS34</text></g>
<g id="B15"><text x="580" transform="rotate(275.15)">R.hirsutus Thunb.</text></g>
<g id="B16"><text x="580" transform="rotate(279.825)">R.crataegifolius Bunge.</text></g>
<g id="B17"><text x="580" transform="rotate(284.5)">R.parvifolius L.</text></g>
<g id="B18"><text x="580" transform="rotate(289.175)">Black red berry</text></g>
<g id="B19"><text x="580" transform="rotate(293.85)">R.komarovi Nakai.</text></g>
<g id="B20"><text x="580" transform="rotate(298.525)">Suiberry1</text></g>
<g id="B21"><text x="580" transform="rotate(303.2)">Nootka</text></g>
<g id="B22"><text x="580" transform="rotate(307.875)">Yellow Raspberry2</text></g>
<g id="B23"><text x="580" transform="rotate(312.55)">Yellow Raspberry</text></g>
<g id="B24"><text x="580" transform="rotate(317.225)">Australian Red</text></g>
<g id="B25"><text x="580" transform="rotate(321.9)">Sweet Raspberry</text></g>
<g id="B26"><text x="580" transform="rotate(326.575)">R.feddei Levl.</text></g>
<g id="B27"><text x="580" transform="rotate(331.25)">Xin Xing</text></g>
<g id="B28"><text x="580" transform="rotate(335.925)">Meeker</text></g>
<g id="B29"><text x="580" transform="rotate(340.6)">Shopskarena</text></g>
<g id="B30"><text x="580" transform="rotate(345.275)">Met</text></g>
<g id="B31"><text x="580" transform="rotate(349.95)">Double Season Raspberry</text></g>
<g id="B32"><text x="580" transform="rotate(354.625)">Willamette</text></g>
<g id="B33"><text x="580" transform="rotate(359.3)">R.coreanusMiq.</text></g>
<g id="B34"><text x="580" transform="rotate(3.975)">Sun</text></g>
<g id="B35"><text x="580" transform="rotate(8.65)">Erika</text></g>
<g id="B36"><text x="580" transform="rotate(13.325)">Reward</text></g>
<g id="B37"><text x="580" transform="rotate(18)">Nova</text></g>
<g id="B38"><text x="580" transform="rotate(22.675)">Thornless</text></g>
<g id="B39"><text x="580" transform="rotate(27.35)">Fertod Zamatos</text></g>
<g id="B40"><text x="580" transform="rotate(32.025)">Trust</text></g>
<g id="B41"><text x="580" transform="rotate(36.7)">Ruby Jade</text></g>
<g id="B42"><text x="580" transform="rotate(41.375)">Canada1</text></g>
<g id="B43"><text x="580" transform="rotate(46.05)">Ruby</text></g>
<g id="B44"><text x="580" transform="rotate(50.725)">Meteor</text></g>
<g id="B45"><text x="580" transform="rotate(55.4)">European Red</text></g>
<g id="B46"><text x="580" transform="rotate(60.075)">Tulameen</text></g>
<g id="B47"><text x="580" transform="rotate(64.75)">Autumn Miss</text></g>
<g id="B48"><text x="580" transform="rotate(69.425)">Autumn Bliss</text></g>
<g id="B49"><text x="580" transform="rotate(74.1)">Him Top</text></g>
<g id="B50"><text x="580" transform="rotate(78.775)">Xiao Nieman</text></g>
<g id="B51"><text x="580" transform="rotate(83.45)">Qiu Ping</text></g>
<g id="B52"><text x="580" transform="rotate(88.125)">Iyulin</text></g>
<g id="B53"><text class="f" x="-580" transform="rotate(-87.2)">Big Red Raspberry</text></g>
<g id="B54"><text class="f" x="-580" transform="rotate(-82.525)">DNS20</text></g>
<g id="B55"><text class="f" x="-580" transform="rotate(-77.85)">Qiu Feng</text></g>
<g id="B56"><text class="f" x="-580" transform="rotate(-73.175)">Barnaulskaja</text></g>
<g id="B57"><text class="f" x="-580" transform="rotate(-68.5)">Boyne</text></g>
<g id="B58"><text class="f" x="-580" transform="rotate(-63.825)">DNS29</text></g>
<g id="B59"><text class="f" x="-580" transform="rotate(-59.15)">Ding Kang</text></g>
<g id="B60"><text class="f" x="-580" transform="rotate(-54.475)">Aures</text></g>
<g id="B61"><text class="f" x="-580" transform="rotate(-49.8)">Seeding20</text></g>
<g id="B62"><text class="f" x="-580" transform="rotate(-45.125)">Fertod Zamatos Seeding</text></g>
<g id="B63"><text class="f" x="-580" transform="rotate(-40.45)">DNS35</text></g>
<g id="B64"><text class="f" x="-580" transform="rotate(-35.775)">DNS33</text></g>
<g id="B65"><text class="f" x="-580" transform="rotate(-31.1)">Kirzhach</text></g>
<g id="B66"><text class="f" x="-580" transform="rotate(-26.425)">Beauty22</text></g>
<g id="B67"><text class="f" x="-580" transform="rotate(-21.75)">Heritage</text></g>
<g id="B68"><text class="f" x="-580" transform="rotate(-17.075)">Polka</text></g>
<g id="B69"><text class="f" x="-580" transform="rotate(-12.4)">Taiberi</text></g>
<g id="B70"><text class="f" x="-580" transform="rotate(-7.725)">Humility</text></g>
<g id="B71"><text class="f" x="-580" transform="rotate(-3.05)">Heritage Seeding</text></g>
<g id="B72"><text class="f" x="-580" transform="rotate(1.625)">Yellow Giant</text></g>
<g id="B73"><text class="f" x="-580" transform="rotate(6.3)">Caroline</text></g>
<g id="B74"><text class="f" x="-580" transform="rotate(10.975)">Seeding32</text></g>
<g id="B75"><text class="f" x="-580" transform="rotate(15.65)">Ruby Necklace</text></g>
<g id="B76"><text class="f" x="-580" transform="rotate(20.325)">Reveille</text></g>
</g>
</g>

<g id="scalebar">
<text class="ts" x="1586" y="1808" textLength="246" lengthAdjust="spacingAndGlyphs">Tree scale: 10</text>
<line class="sb" x1="1865" y1="1795" x2="2318" y2="1795"/>
<line class="sb" x1="1865" y1="1783" x2="1865" y2="1807"/>
<line class="sb" x1="2318" y1="1783" x2="2318" y2="1807"/>
<line class="sb" x1="2092" y1="1795" x2="2092" y2="1802"/>
</g>
</svg>
